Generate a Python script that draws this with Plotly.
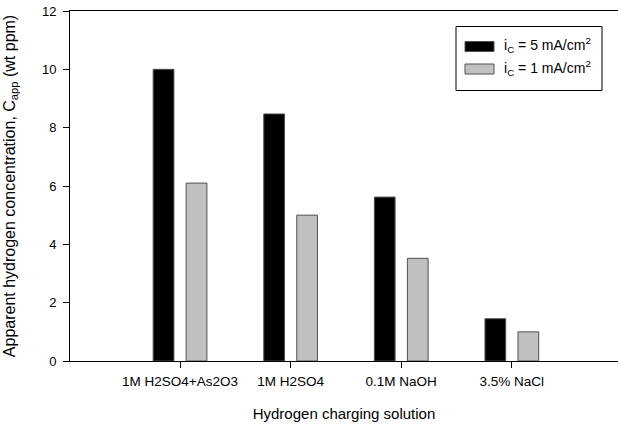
import plotly.graph_objects as go

categories = ["1M H2SO4+As2O3", "1M H2SO4", "0.1M NaOH", "3.5% NaCl"]
ic5 = [10.0, 8.47, 5.62, 1.45]
ic1 = [6.1, 5.0, 3.52, 1.0]
series_names = ["i<sub>C</sub> = 5 mA/cm<sup>2</sup>", "i<sub>C</sub> = 1 mA/cm<sup>2</sup>"]
series_colors = ["#000000", "#c0c0c0"]

W, H = 618, 430
L, R, T, B = 70, 0, 11, 69

FONT = "Liberation Sans, Arial, sans-serif"

fig = go.Figure()
for name, vals, col in zip(series_names, [ic5, ic1], series_colors):
    fig.add_trace(go.Bar(
        x=categories, y=vals, name=name,
        marker=dict(color=col, line=dict(color="#505050", width=1)),
        showlegend=False,
    ))

pw = W - L - R
ph = H - T - B


def px(x):
    return (x - L) / pw


def py(y):
    return (H - B - y) / ph


shapes = [
    dict(type="rect", xref="paper", yref="paper",
         x0=px(456), x1=px(602), y0=py(90.5), y1=py(26.5),
         line=dict(color="#000000", width=1), fillcolor="white"),
]
annotations = []
rows = [(41.5, 51.5), (64, 74)]
for (y0, y1), name, col in zip(rows, series_names, series_colors):
    shapes.append(dict(type="rect", xref="paper", yref="paper",
                       x0=px(465), x1=px(494), y0=py(y1), y1=py(y0),
                       line=dict(color="#505050", width=1), fillcolor=col))
    annotations.append(dict(xref="paper", yref="paper", x=px(502), y=py((y0 + y1) / 2 - 1),
                            text=name, showarrow=False, xanchor="left", yanchor="middle",
                            font=dict(family=FONT, size=14, color="black")))

fig.update_layout(
    width=W, height=H,
    margin=dict(l=L, r=R, t=T, b=B, pad=0),
    paper_bgcolor="white", plot_bgcolor="white",
    barmode="group", bargap=0.403, bargroupgap=0.372,
    font=dict(family=FONT, size=13, color="black"),
    shapes=shapes, annotations=annotations,
    xaxis=dict(
        range=[-0.995, 3.96], showline=True, linecolor="black", linewidth=1,
        mirror=True, ticks="outside", ticklen=6, tickcolor="black",
        showgrid=False, zeroline=False,
        tickfont=dict(family=FONT, size=13.5), ticklabelstandoff=2,
        title=dict(text="Hydrogen charging solution", font=dict(family=FONT, size=15), standoff=20),
    ),
    yaxis=dict(
        range=[0, 12], dtick=2, showline=True, linecolor="black", linewidth=1,
        ticks="outside", ticklen=6, tickcolor="black",
        showgrid=False, zeroline=False,
        tickfont=dict(family=FONT, size=13), ticklabelstandoff=4,
        title=dict(text="Apparent hydrogen concentration, C<sub>app</sub> (wt ppm)",
                   font=dict(family=FONT, size=16), standoff=22),
    ),
)

fig.write_html("out.html")
